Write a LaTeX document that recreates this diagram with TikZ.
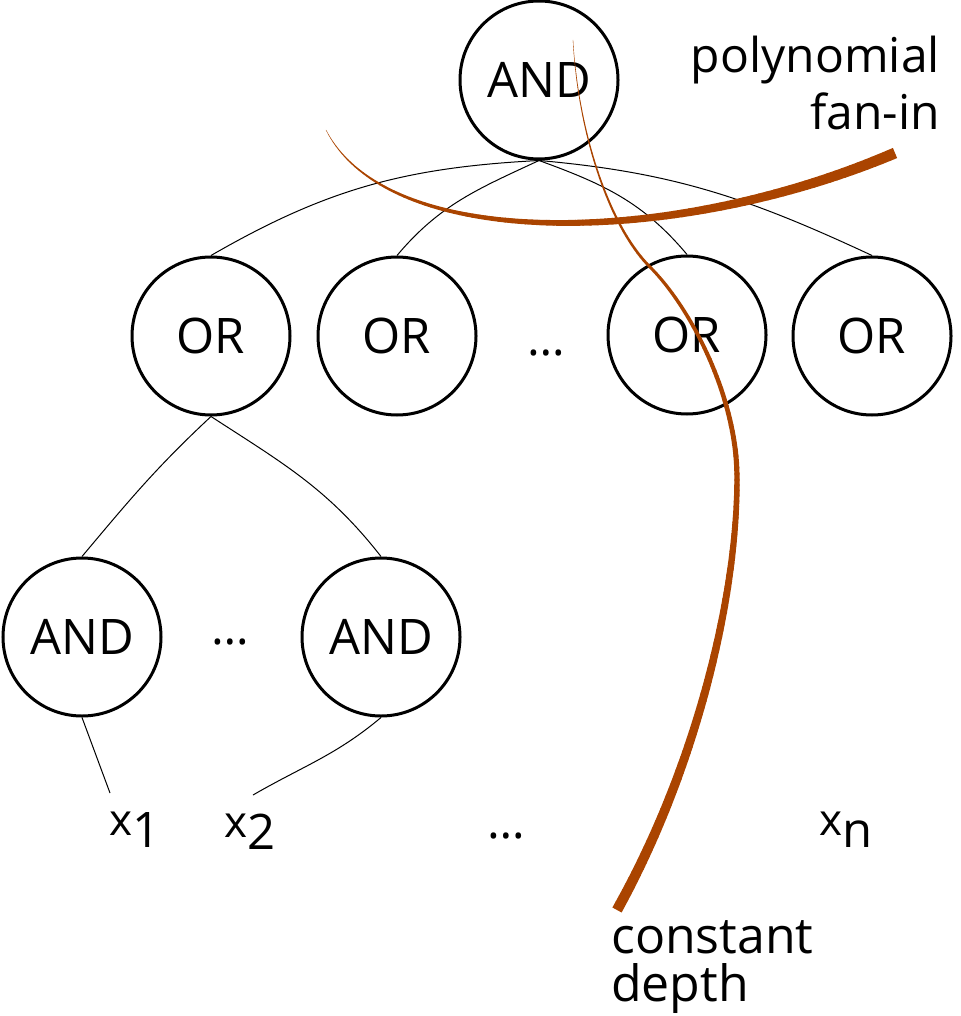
\documentclass[tikz,border=0pt]{standalone}
\usepackage{fontspec}
\setmainfont{Open Sans}
\definecolor{rust}{HTML}{AA4400}
\tikzset{
  gate/.style={circle, draw, line width=3pt, minimum size=158pt, inner sep=0pt,
    font=\fontsize{49}{49}\selectfont},
  wire/.style={line width=1pt},
  dotlbl/.style={anchor=base, inner sep=0pt, font=\fontsize{48}{48}\selectfont},
  xlab/.style={anchor=base west, inner sep=0pt, font=\fontsize{44}{44}\selectfont},
  lblA/.style={inner sep=0pt, font=\fontsize{48}{57}\selectfont},
  lblB/.style={inner sep=0pt, align=left, font=\fontsize{50}{48}\selectfont},
}
\newcommand\mysub[1]{\raisebox{-12pt}{\fontsize{49}{49}\selectfont #1}}
% tapered cubic Bezier: #1..#8 = P0 C1 C2 P3 coordinates, #9 = steps;
% widths \wA -> \wB, cap of last piece \lastcap
\newcommand\taperbez[9]{%
  \foreach \i in {1,...,#9}{%
    \pgfmathsetmacro\ta{(\i-1)/#9}%
    \pgfmathsetmacro\tb{\i/#9}%
    \pgfmathsetmacro\xa{(1-\ta)^3*(#1)+3*(1-\ta)^2*\ta*(#3)+3*(1-\ta)*\ta^2*(#5)+\ta^3*(#7)}%
    \pgfmathsetmacro\ya{(1-\ta)^3*(#2)+3*(1-\ta)^2*\ta*(#4)+3*(1-\ta)*\ta^2*(#6)+\ta^3*(#8)}%
    \pgfmathsetmacro\xb{(1-\tb)^3*(#1)+3*(1-\tb)^2*\tb*(#3)+3*(1-\tb)*\tb^2*(#5)+\tb^3*(#7)}%
    \pgfmathsetmacro\yb{(1-\tb)^3*(#2)+3*(1-\tb)^2*\tb*(#4)+3*(1-\tb)*\tb^2*(#6)+\tb^3*(#8)}%
    \pgfmathsetmacro\wcur{\wA+(\wB-\wA)*(\ta+\tb)/2}%
    \ifnum\i=#9 \edef\capst{\lastcap}\else\def\capst{round}\fi
    \draw[rust, line width=\wcur pt, line cap=\capst] (\xa,\ya) -- (\xb,\yb);
  }%
}
\begin{document}
\begin{tikzpicture}[x=1pt,y=1pt]
\useasboundingbox (0,0) rectangle (960,-1016);

% gates
\node[gate] (top) at (539,-80) {AND};
\node[gate] (or1) at (211,-336) {OR};
\node[gate] (or2) at (397,-336) {OR};
\node[gate] (or3) at (687,-335) {OR};
\node[gate] (or4) at (872,-336) {OR};
\node[gate] (and1) at (82,-637) {AND};
\node[gate] (and2) at (381,-637) {AND};

% ellipses
\node[dotlbl] (dotsor) at (546,-355) {…};
\node[dotlbl] (dotsand) at (230,-644) {…};
\node[dotlbl] (dotsx) at (506,-838) {…};

% inputs
\node[xlab] (x1) at (109,-835) {x\mysub{1}};
\node[xlab] (x2) at (224,-837) {x\mysub{2}};
\node[xlab] (xn) at (819,-835) {x\mysub{n}};
\coordinate (x1end) at (110,-793);
\coordinate (x2end) at (253,-795);

% wires
\draw[wire] (top.south) to[out=183,in=30] (or1.north);
\draw[wire] (top.south) to[out=205,in=50] (or2.north);
\draw[wire] (top.south) to[out=-20,in=130] (or3.north);
\draw[wire] (top.south) to[out=-5,in=155] (or4.north);
\draw[wire] (or1.south) to[out=223,in=50] (and1.north);
\draw[wire] (or1.south) to[out=-33,in=128] (and2.north);
\draw[wire] (and1.south) -- (x1end);
\draw[wire] (and2.south) to[out=220,in=30] (x2end);

% labels
\node[lblA, anchor=base east] (fanin) at (940,-73)
  {\begin{tabular}[t]{@{}r@{}}polynomial\\fan-in\end{tabular}};
\node[lblB, anchor=south west] (depth) at (611,-1014) {constant\\depth};

% tapered annotation strokes
\def\wA{0.3}\def\wB{11}\def\lastcap{butt}
\taperbez{326}{-130}{390}{-255}{680}{-245}{895}{-153}{90}
\def\wA{0.3}\def\wB{2.9}\def\lastcap{round}
\taperbez{573}{-40}{578}{-130}{608}{-225}{650}{-267}{40}
\def\wA{2.9}\def\wB{5.3}\def\lastcap{round}
\taperbez{650}{-267}{692}{-309}{738}{-400}{737}{-480}{40}
\def\wA{5.3}\def\wB{10.5}\def\lastcap{butt}
\taperbez{737}{-480}{737}{-600}{695}{-770}{617}{-910}{70}
\end{tikzpicture}
\end{document}
